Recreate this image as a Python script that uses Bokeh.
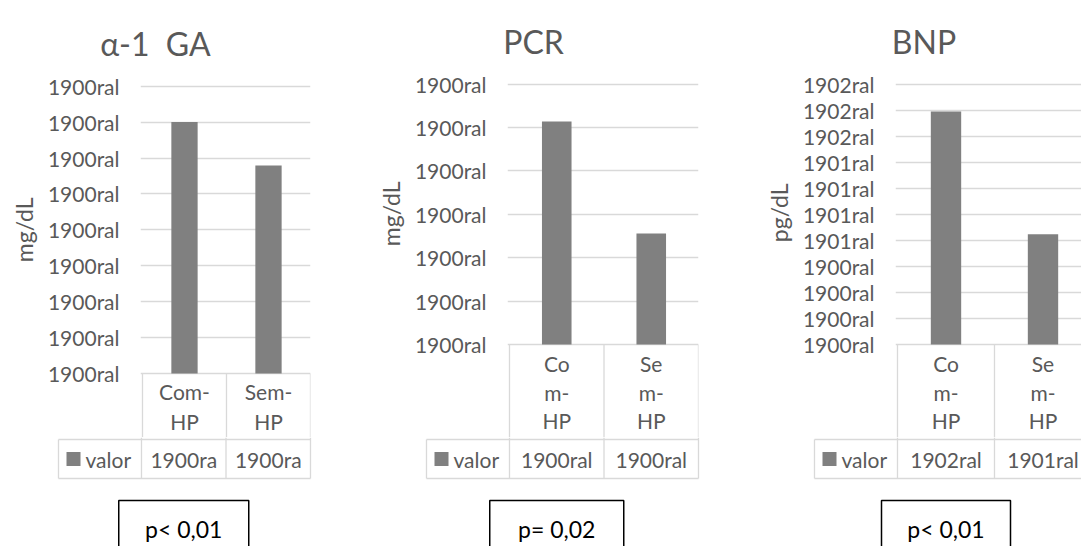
from bokeh.plotting import figure
from bokeh.layouts import row, column
from bokeh.models import Range1d, FixedTicker, ColumnDataSource, Title
from bokeh.embed import file_html
from bokeh.resources import INLINE

# ---------------- data ----------------
categories = ["Com-HP", "Sem-HP"]
cat_lines_wide = [["Com-", "HP"], ["Sem-", "HP"]]
cat_lines_narrow = [["Co", "m-", "HP"], ["Se", "m-", "HP"]]

titles = ["\u03b1-1\u00a0\u00a0GA", "PCR", "BNP"]
units = ["mg/dL", "mg/dL", "pg/dL"]
series_name = "valor"

ga_values = [7.0, 5.79]
pcr_values = [5.14, 2.56]
bnp_values = [8.95, 4.23]

ga_ticks = ["1900ral"] * 9
pcr_ticks = ["1900ral"] * 7
bnp_ticks = ["1900ral"] * 4 + ["1901ral"] * 4 + ["1902ral"] * 3

ga_table = ["1900ra", "1900ra"]
pcr_table = ["1900ral", "1900ral"]
bnp_table = ["1902ral", "1901ral"]

p_texts = ["p< 0,01", "p= 0,02", "p< 0,01"]

# ---------------- style ----------------
FONT = "Lato"
TXT = "#595959"
GRID = "#d9d9d9"
BAR = "#808080"
PAGE_H = 546
TITLE_H = 70


def make_panel(W, frame_left, col_w, frame_right, grid_top, zero, frame_top,
               values, ticks, table_vals, lines, line_ys, val_y, row_y, bottom_y,
               leg_w, title, title_x, title_base, unit, unit_offset, ptext,
               pbox_w):
    n = len(ticks) - 1
    k = len(values)

    # ---- title strip ----
    tt = figure(width=W, height=TITLE_H, x_range=Range1d(0, W),
                y_range=Range1d(TITLE_H, 0), min_border_left=0,
                min_border_right=0, min_border_top=0, min_border_bottom=0,
                x_axis_location=None, y_axis_location=None,
                output_backend="svg", toolbar_location=None, frame_align=False)
    tt.outline_line_color = None
    tt.grid.visible = False
    tt.text(x=[title_x], y=[title_base], text=[title], text_align="center",
            text_baseline="alphabetic", text_font={"value": FONT},
            text_font_size="32px", text_color=TXT)

    # ---- chart ----
    c_bottom = row_y - 2          # chart frame ends just above the row line
    Hc = c_bottom - TITLE_H
    ppu = (zero - grid_top) / n
    y_start = -(c_bottom - zero) / ppu
    y_end = n + (grid_top - frame_top) / ppu
    fl = frame_left - 2
    x_start = -2 / col_w
    x_end = (frame_right - frame_left) / col_w

    p = figure(width=W, height=Hc, x_range=Range1d(x_start, x_end),
               y_range=Range1d(y_start, y_end),
               min_border_left=fl, min_border_right=W - frame_right,
               min_border_top=frame_top - TITLE_H, min_border_bottom=0,
               x_axis_location=None, output_backend="svg",
               toolbar_location=None, frame_align=False)
    p.outline_line_color = None
    p.xgrid.visible = False
    tk = FixedTicker(ticks=list(range(n + 1)))
    p.yaxis.ticker = tk
    p.ygrid.ticker = tk
    p.ygrid.grid_line_color = GRID
    p.ygrid.grid_line_width = 1.3
    p.yaxis.major_label_overrides = {i: t for i, t in enumerate(ticks)}
    p.yaxis.axis_line_color = None
    p.yaxis.major_tick_line_color = None
    p.yaxis.minor_tick_line_color = None
    p.yaxis.major_tick_out = 0
    p.yaxis.major_tick_in = 0
    p.yaxis.major_label_standoff = 21
    p.yaxis.major_label_text_font = FONT
    p.yaxis.major_label_text_font_size = "21px"
    p.yaxis.major_label_text_color = TXT
    # unit label on the left, positioned along the value range
    p.add_layout(Title(text=unit, align="right", offset=unit_offset,
                       text_font=FONT, text_font_size="23px",
                       text_font_style="normal", text_color=TXT,
                       standoff=14), "left")

    src = ColumnDataSource(dict(x=[i + 0.5 for i in range(k)], top=values))
    p.vbar(x="x", top="top", bottom=0, width=0.313, source=src,
           fill_color=BAR, line_color=None)
    # category cells of the data table (below the zero line)
    p.segment(x0=list(range(k + 1)), y0=[0] * (k + 1),
              x1=list(range(k + 1)), y1=[y_start] * (k + 1),
              line_color=GRID, line_width=1.3)
    cx, cy, ct = [], [], []
    for i, ls in enumerate(lines):
        for j, s in enumerate(ls):
            cx.append(i + 0.5)
            cy.append(-(line_ys[j] - zero) / ppu)
            ct.append(s)
    p.text(x=cx, y=cy, text=ct, text_align="center", text_baseline="middle",
           text_font={"value": FONT}, text_font_size="21px", text_color=TXT)

    # ---- value row of the data table + p box ----
    T0 = c_bottom
    TH = PAGE_H - T0
    t = figure(width=W, height=TH,
               x_range=Range1d(-frame_left / col_w, (W - frame_left) / col_w),
               y_range=Range1d(TH, 0),
               min_border_left=0, min_border_right=0, min_border_top=0,
               min_border_bottom=0, x_axis_location=None,
               y_axis_location=None, output_backend="svg",
               toolbar_location=None, frame_align=False)
    t.outline_line_color = None
    t.grid.visible = False

    lx = -leg_w / col_w
    rr = row_y - T0
    bb = bottom_y - T0
    x0s = list(range(k + 1)) + [lx, lx, lx]
    x1s = list(range(k + 1)) + [lx, k, k]
    y0s = [0] * (k + 1) + [rr, rr, bb]
    y1s = [bb] * (k + 1) + [bb, rr, bb]
    t.segment(x0=x0s, y0=y0s, x1=x1s, y1=y1s, line_color=GRID, line_width=1.3)

    t.text(x=[i + 0.5 for i in range(k)], y=[val_y - T0] * k, text=table_vals,
           text_align="center", text_baseline="middle",
           text_font={"value": FONT}, text_font_size="21px", text_color=TXT)

    t.rect(x=[lx + 15 / col_w], y=[val_y - T0], width=14, height=14,
           width_units="screen", height_units="screen",
           fill_color=BAR, line_color=None)
    t.text(x=[lx + 27 / col_w], y=[val_y - T0], text=[series_name],
           text_align="left", text_baseline="middle",
           text_font={"value": FONT}, text_font_size="21px", text_color=TXT)

    t.rect(x=[0.5], y=[(500 + 570) / 2 - T0], width=pbox_w, height=70,
           width_units="screen", height_units="screen",
           fill_color=None, line_color="black", line_width=1.5)
    t.text(x=[0.5], y=[528 - T0], text=[ptext], text_align="center",
           text_baseline="middle", text_font={"value": FONT},
           text_font_size="23px", text_color="black")

    return column(tt, p, t, spacing=0)


panel1 = make_panel(360, 141, 84.5, 310, 85.7, 373, 83, ga_values, ga_ticks,
                    ga_table, cat_lines_wide, [391, 421], 458.5, 439, 478,
                    83, titles[0], 155, 43, units[0], 114, p_texts[0], 130)
panel2 = make_panel(360, 149, 94.5, 338, 83.6, 344, 81, pcr_values, pcr_ticks,
                    pcr_table, cat_lines_narrow, [363, 392, 420], 458.5, 439,
                    478, 83, titles[1], 173, 41, units[1], 100, p_texts[1], 134)
panel3 = make_panel(361, 177, 97, 361, 83.6, 344, 81, bnp_values, bnp_ticks,
                    bnp_table, cat_lines_narrow, [363, 392, 420], 458.5, 439,
                    478, 83, titles[2], 203.5, 41, units[2], 102, p_texts[2],
                    129)

layout = row(panel1, panel2, panel3, spacing=0)

with open("out.html", "w") as f:
    f.write(file_html(layout, INLINE))
